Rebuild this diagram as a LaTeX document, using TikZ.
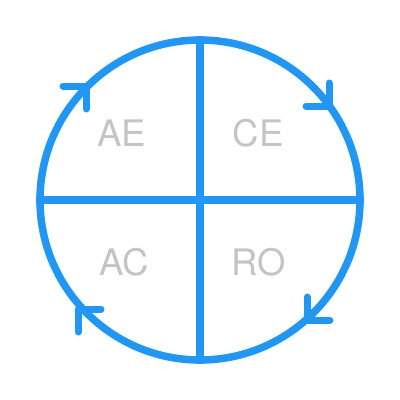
\documentclass[tikz,border=0pt]{standalone}
\usepackage{fontspec}
\setmainfont{TeX Gyre Heros}
\definecolor{ringblue}{HTML}{2196F3}
\definecolor{labelgray}{HTML}{C4C4C4}
\begin{document}
\begin{tikzpicture}[x=1pt,y=-1pt,
  ring/.style={draw=ringblue, line width=7.5pt},
  chev/.style={draw=ringblue, line width=7pt, line cap=round, line join=round},
  lbl/.style={text=labelgray, font=\fontsize{36.5}{40}\selectfont, inner sep=0pt}]
\useasboundingbox (0,0) rectangle (400,400);
\node[circle, ring, minimum size=320pt, inner sep=0pt] (c) at (200,200) {};
\draw[ring] (c.north) -- (c.south);
\draw[ring] (c.west) -- (c.east);
\node[lbl] (ae) at (122,133) {AE};
\node[lbl] (ce) at (258,133) {CE};
\node[lbl] (ac) at (124,262) {AC};
\node[lbl] (ro) at (259,262) {RO};
\coordinate (t1) at (86,86);
\coordinate (t2) at (329,106);
\coordinate (t3) at (307,320);
\coordinate (t4) at (78,309);
\draw[chev] ([xshift=-23pt]t1) -- (t1) -- ([yshift=-23pt]t1);
\draw[chev] ([yshift=23pt]t2) -- (t2) -- ([xshift=-23pt]t2);
\draw[chev] ([yshift=23pt]t3) -- (t3) -- ([xshift=23pt]t3);
\draw[chev] ([xshift=23pt]t4) -- (t4) -- ([yshift=-23pt]t4);
\end{tikzpicture}
\end{document}
